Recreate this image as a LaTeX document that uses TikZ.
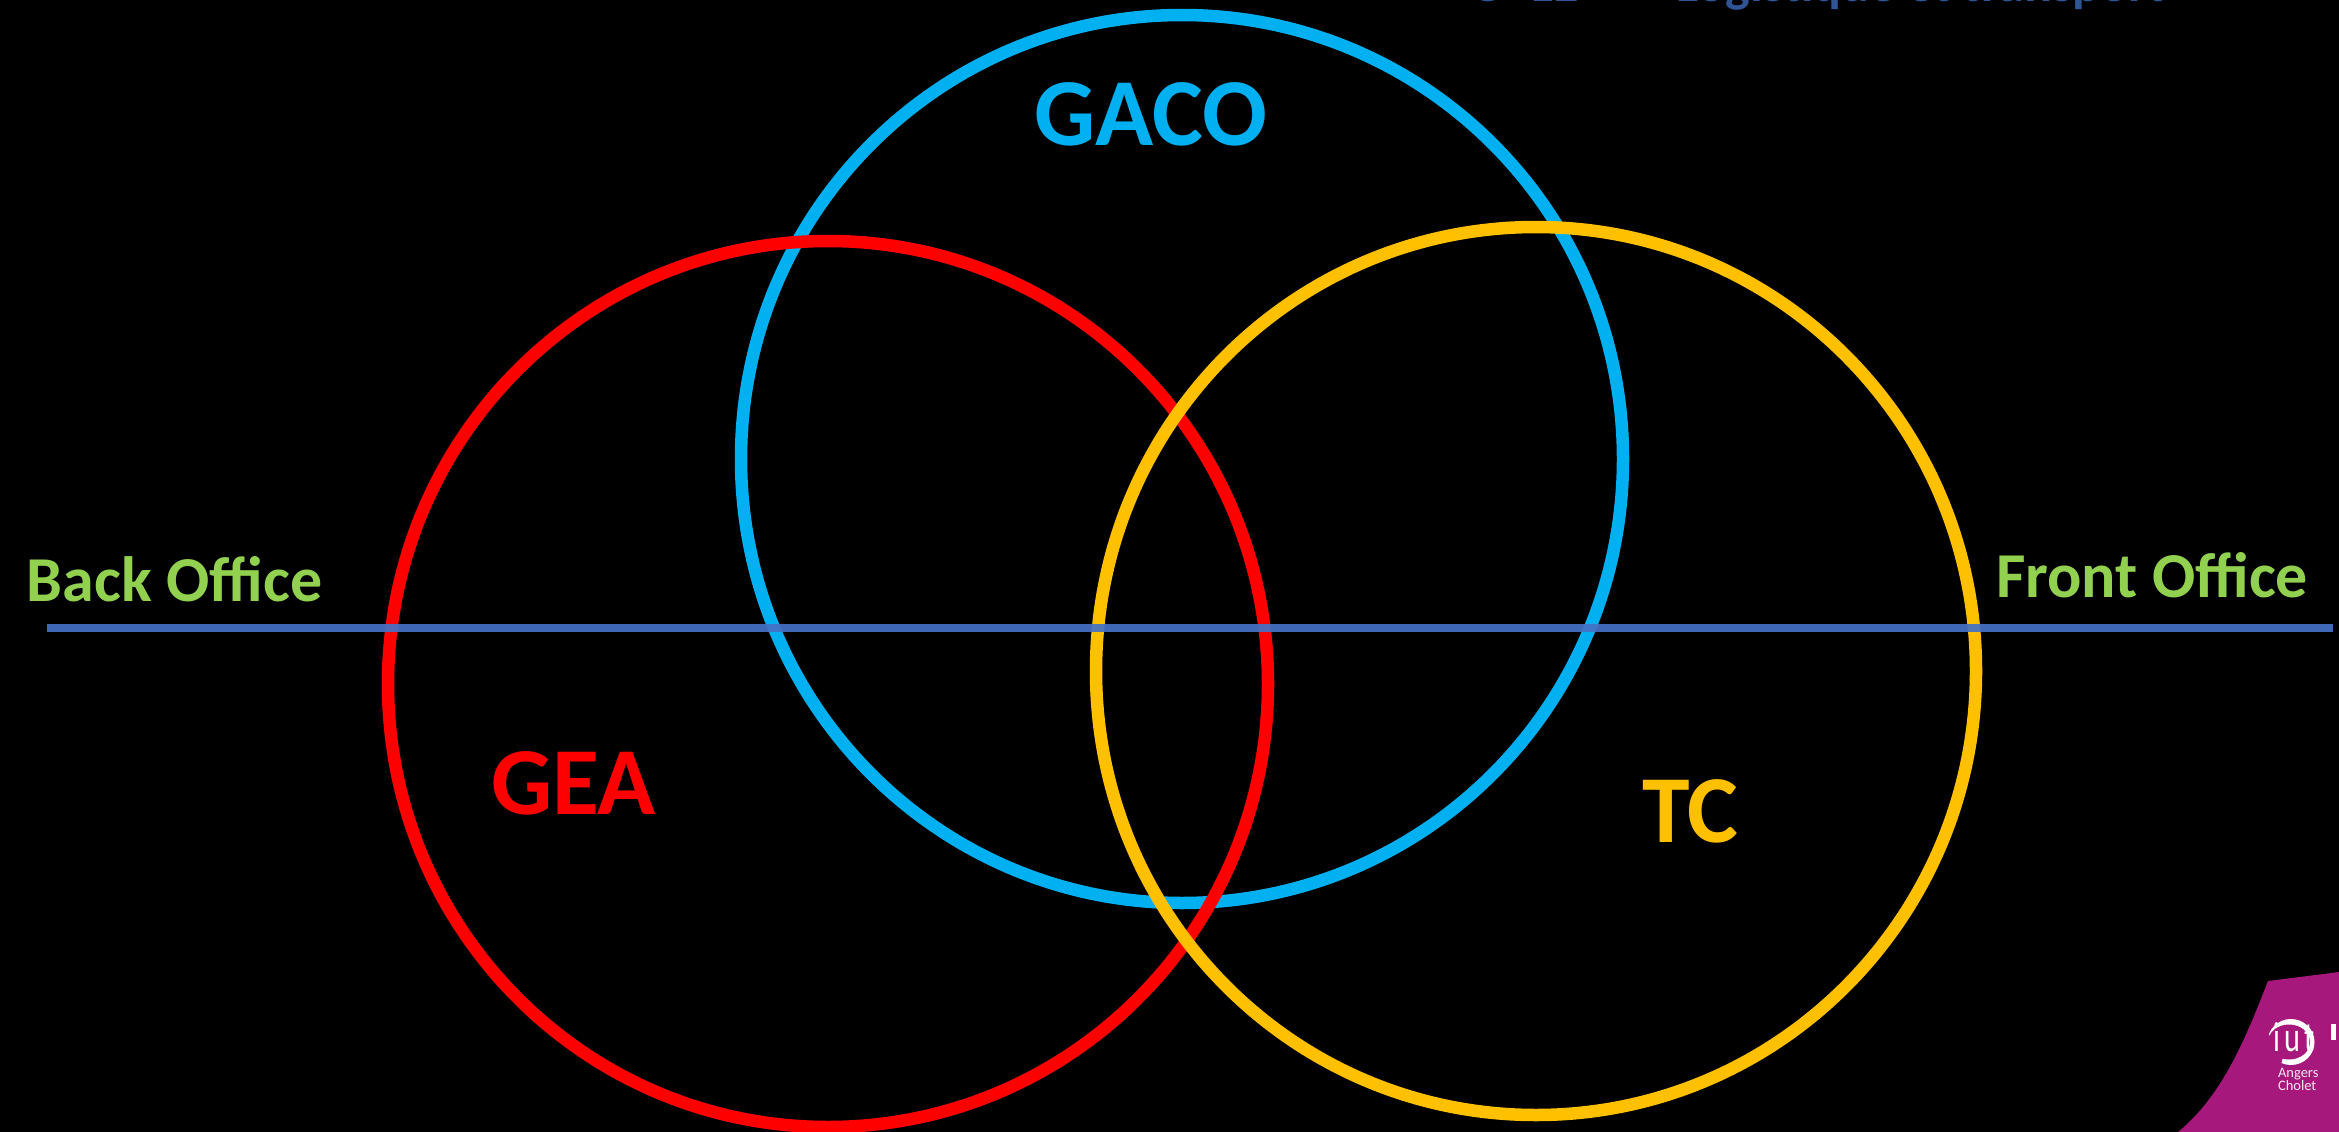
\documentclass[tikz,border=0pt]{standalone}
\usepackage{fontspec}
\setmainfont{Carlito}
\definecolor{gaco}{HTML}{00B0F0}
\definecolor{gea}{HTML}{FF0000}
\definecolor{tc}{HTML}{FFC000}
\definecolor{office}{HTML}{92D050}
\definecolor{axis}{HTML}{4472C4}
\definecolor{toptext}{HTML}{2F5597}
\definecolor{iutpurple}{HTML}{A6187C}
\newcommand{\fs}[1]{\fontsize{#1}{#1}\selectfont}
\tikzset{
  ring/.style={line width=12.5pt},
  label/.style={inner sep=0pt,outer sep=0pt,anchor=base west,font=\bfseries},
}
\begin{document}
\begin{tikzpicture}[x=1pt,y=-1pt]
\useasboundingbox (0,0) rectangle (2339,1132);
\clip (0,0) rectangle (2339,1132);
\fill[black] (0,0) rectangle (2339,1132);
% top clipped heading
\node[label,text=toptext,font=\bfseries\fs{52}] (head) at (1470,1.5) {O\hspace{26pt}LE\hspace{52pt}-\hspace{30pt}Logistique et transport};
% purple corner
\fill[iutpurple] (2268,981) -- (2339,972) -- (2339,1132) -- (2178,1132)
  .. controls (2222,1096) and (2245,1040) .. (2268,981) -- cycle;
% logo
\fill[white] (2291,1042) circle[x radius=23.5,y radius=23];
\fill[iutpurple] (2289,1042) circle[x radius=21,y radius=17.5];
\fill[iutpurple] (2262,1031) -- (2286,1046) -- (2280,1068) -- (2262,1062) -- cycle;
\node[inner sep=0,text=white,font=\fs{42},xscale=.72] (iut) at (2294,1037) {\addfontfeatures{LetterSpace=14}iut};
\node[label,text=white!90!iutpurple,font=\fs{14.5}] (angers) at (2278,1077) {Angers};
\node[label,text=white!90!iutpurple,font=\fs{14.5}] (cholet) at (2278,1090) {Cholet};
\fill[white] (2331,1024) rectangle (2335.5,1040);
% circles
\draw[ring,gaco] (1182,459) circle[x radius=441,y radius=444];
\draw[ring,gea] (828,684) circle[x radius=440,y radius=443];
\draw[ring,tc] (1536,671) circle[x radius=440,y radius=444];
% axis
\coordinate (axisL) at (47,628);
\coordinate (axisR) at (2333,628);
\draw[axis,line width=8pt,opacity=.93] (axisL) -- (axisR);
% labels
\node[label,text=gaco,font=\bfseries\fs{96}] (gacoT) at (1034,145) {GACO};
\node[label,text=gea,font=\bfseries\fs{96}] (geaT) at (491,814) {GEA};
\node[label,text=tc,font=\bfseries\fs{96}] (tcT) at (1642,842) {TC};
\node[label,text=office,font=\bfseries\fs{64}] (back) at (27,601) {Back Office};
\node[label,text=office,font=\bfseries\fs{64}] (front) at (1996,597) {Front Office};
\end{tikzpicture}
\end{document}
